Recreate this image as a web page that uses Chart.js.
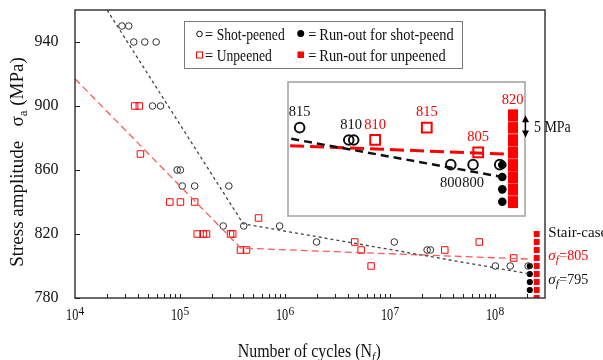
<!DOCTYPE html>
<html><head><meta charset="utf-8">
<script src="https://cdn.jsdelivr.net/npm/chart.js@4.4.1/dist/chart.umd.min.js"></script>
<style>
html,body{margin:0;padding:0;background:#fff;}
#wrap{position:relative;width:603px;height:360px;overflow:hidden;}
#main{position:absolute;left:0;top:0;}
#inset{position:absolute;left:287px;top:81px;}
</style></head><body>
<div id="wrap"><canvas id="main" width="603" height="360"></canvas><canvas id="inset" width="290" height="136"></canvas></div>
<script>
// ---------------- data ----------------
const shotPeenedCycles = [2.8e4,3.25e4, 3.63e4,4.62e4,5.93e4, 5.47e4,6.52e4, 9.4e4,1.01e5, 1.05e5,1.38e5,2.92e5, 2.58e5,4.05e5,8.9e5, 2.0e6,1.1e7, 2.26e7,2.43e7, 1.01e8,1.4e8,2.07e8];
const shotPeenedStress = [950,950, 940,940,940, 900,900, 860,860, 850,850,850, 825,825,825, 815,815, 810,810, 800,800,800];
const unpeenedCycles = [3.7e4,4.1e4, 4.2e4, 8.0e4,1.01e5,1.38e5, 1.46e5,1.66e5,1.79e5,3.03e5,3.18e5, 3.77e5,4.3e5, 5.6e5, 4.62e6, 5.32e6, 6.62e6, 3.33e7, 7.1e7, 1.51e8];
const unpeenedStress = [900,900, 870, 840,840,840, 820,820,820,820,820, 810,810, 830, 815, 810, 800, 810, 815, 805];
const runoutShotCycles = [2.15e8,2.15e8,2.15e8,2.15e8];
const runoutShotStress = [800,795,790,785];
const runoutUnpeenedCycles = [2.5e8,2.5e8,2.5e8,2.5e8,2.5e8,2.5e8,2.5e8,2.5e8,2.5e8];
const runoutUnpeenedStress = [820,815,810,805,800,795,790,785,780];
const shotFitCycles = [2.02e4, 4.0e5, 2.2e8];
const shotFitStress = [960, 826.4, 794.9];
const unpFitCycles = [1e4, 3.8e5, 2.2e8];
const unpFitStress = [917, 811.2, 804.3];
const yTickValues = [780, 820, 860, 900, 940];
const xTickValues = [1e4, 1e5, 1e6, 1e7, 1e8];
const xTickExponents = ['4', '5', '6', '7', '8'];
const insetLabelCycles = [1.1e7, 2.34e7, 3.33e7, 7.1e7, 1.51e8, 1.01e8, 1.4e8, 2.5e8];
const insetLabelStress = [815, 810, 810, 815, 805, 800, 800, 820];
const insetLabelColors = ['#111','#111','#ff0000','#ff0000','#ff0000','#111','#111','#ff0000'];
const insetLabelBelow = [false,false,false,false,false,true,true,false];
const stairShot = 795, stairUnpeened = 805;

const pts = (xs, ys) => xs.map((x, i) => ({x: x, y: ys[i]}));
const SERIF = '"Liberation Serif", "Times New Roman", serif';
const RED = '#ff0000';

function txt(ctx, s, x, y, font, color, sx, align) {
  ctx.save();
  ctx.font = font; ctx.fillStyle = color; ctx.textBaseline = 'alphabetic';
  const w = ctx.measureText(s).width * (sx || 1);
  let x0 = x;
  if (align === 'center') x0 = x - w / 2; else if (align === 'right') x0 = x - w;
  ctx.translate(x0, y); ctx.scale(sx || 1, 1); ctx.textAlign = 'left';
  ctx.fillText(s, 0, 0);
  ctx.restore();
  return w;
}

// ---------------- main chart ----------------
const mainDecor = {
  id: 'mainDecor',
  beforeDraw(chart) {
    const ctx = chart.ctx;
    ctx.save(); ctx.fillStyle = '#fff'; ctx.fillRect(0, 0, chart.width, chart.height); ctx.restore();
  },
  afterDraw(chart) {
    const ctx = chart.ctx, a = chart.chartArea, xs = chart.scales.x, ys = chart.scales.y;
    ctx.save();
    // frame
    ctx.strokeStyle = '#3a3a3a'; ctx.lineWidth = 1.5;
    ctx.strokeRect(a.left, a.top, a.right - a.left, a.bottom - a.top);
    // inward ticks
    ctx.strokeStyle = '#222'; ctx.lineWidth = 1;
    ctx.beginPath();
    yTickValues.forEach(v => { const py = Math.round(ys.getPixelForValue(v)) + 0.5; ctx.moveTo(a.left, py); ctx.lineTo(a.left + 5, py); });
    for (let d = 1e4; d <= 1e8; d *= 10) {
      for (let m = 1; m <= 9; m++) {
        const v = d * m;
        if (v <= xs.min || v >= xs.max) continue;
        const px = Math.round(xs.getPixelForValue(v)) + 0.5;
        ctx.moveTo(px, a.bottom); ctx.lineTo(px, a.bottom - 4);
      }
    }
    ctx.stroke();
    // y tick labels
    ctx.font = '16px ' + SERIF; ctx.fillStyle = '#111'; ctx.textAlign = 'right'; ctx.textBaseline = 'middle';
    yTickValues.forEach(v => ctx.fillText(String(v), a.left - 16.5, ys.getPixelForValue(v)));
    // x tick labels
    xTickValues.forEach((v, i) => {
      const px = xs.getPixelForValue(v);
      ctx.font = '17px ' + SERIF; const w1 = ctx.measureText('10').width * 0.72;
      ctx.font = '11.5px ' + SERIF; const w2 = ctx.measureText(xTickExponents[i]).width;
      const start = px - (w1 + w2) / 2;
      txt(ctx, '10', start, 320, '17px ' + SERIF, '#111', 0.72);
      txt(ctx, xTickExponents[i], start + w1 + 0.3, 315, '11.5px ' + SERIF, '#111', 1);
    });
    // x title
    {
      const f1 = '19px ' + SERIF, f2 = 'italic 13px ' + SERIF, sx = 0.84;
      ctx.font = f1; const p1 = 'Number of cycles (N', p3 = ')';
      const w1 = ctx.measureText(p1).width, w3 = ctx.measureText(p3).width;
      ctx.font = f2; const w2 = ctx.measureText('f').width;
      const tot = (w1 + w2 + w3) * sx;
      let x = 309 - tot / 2;
      txt(ctx, p1, x, 356.5, f1, '#111', sx); x += w1 * sx;
      txt(ctx, 'f', x, 360.5, f2, '#111', sx); x += w2 * sx + 0.5;
      txt(ctx, p3, x, 356.5, f1, '#111', sx);
    }
    // y title
    {
      const f1 = '19px ' + SERIF, f2 = '13px ' + SERIF;
      ctx.save(); ctx.translate(23, 162); ctx.rotate(-Math.PI / 2);
      ctx.font = f1; const p1 = 'Stress amplitude   σ', p3 = ' (MPa)';
      const w1 = ctx.measureText(p1).width, w3 = ctx.measureText(p3).width;
      ctx.font = f2; const w2 = ctx.measureText('a').width;
      let x = -(w1 + w2 + w3) / 2;
      ctx.fillStyle = '#111'; ctx.textBaseline = 'alphabetic'; ctx.textAlign = 'left';
      ctx.font = f1; ctx.fillText(p1, x, 0); x += w1;
      ctx.font = f2; ctx.fillText('a', x, 4); x += w2;
      ctx.font = f1; ctx.fillText(p3, x, 0);
      ctx.restore();
    }
    // legend
    ctx.fillStyle = '#fff'; ctx.fillRect(184.5, 21.5, 278, 47);
    ctx.strokeStyle = '#7a7a7a'; ctx.lineWidth = 1; ctx.strokeRect(184.5, 21.5, 278, 47);
    const lf = '16px ' + SERIF;
    ctx.strokeStyle = '#111'; ctx.lineWidth = 1;
    ctx.beginPath(); ctx.arc(199.5, 34, 2.8, 0, Math.PI * 2); ctx.stroke();
    txt(ctx, '=', 205, 39.5, lf, '#111', 0.9);
    txt(ctx, 'Shot-peened', 216.7, 39.5, lf, '#111', 0.85);
    ctx.strokeStyle = RED; ctx.strokeRect(196.5, 52, 6, 6);
    txt(ctx, '=', 205, 61, lf, '#111', 0.9);
    txt(ctx, 'Unpeened', 216.7, 61, lf, '#111', 0.85);
    ctx.fillStyle = '#000'; ctx.beginPath(); ctx.arc(300.7, 33.5, 3.5, 0, Math.PI * 2); ctx.fill();
    txt(ctx, '=', 308.3, 39.5, lf, '#111', 0.9);
    txt(ctx, 'Run-out for shot-peend', 319.3, 39.5, lf, '#111', 0.9);
    ctx.fillStyle = RED; ctx.fillRect(297.5, 51.5, 6.5, 6.5);
    txt(ctx, '=', 308.3, 61, lf, '#111', 0.9);
    txt(ctx, 'Run-out for unpeened', 319.3, 61, lf, '#111', 0.9);
    // stair-case annotation
    txt(ctx, 'Stair-case', 548.3, 236.7, '15px ' + SERIF, '#111', 1);
    [[stairUnpeened, RED, 260], [stairShot, '#111', 283.5]].forEach(([val, col, by]) => {
      let x = 548.3;
      x += txt(ctx, 'σ', x, by, 'italic 15px ' + SERIF, col, 1);
      x += txt(ctx, 'f', x, by + 3, 'italic 11px ' + SERIF, col, 1) + 0.5;
      txt(ctx, '=' + val, x, by, '14px ' + SERIF, col, 1);
    });
    ctx.restore();
  }
};

new Chart(document.getElementById('main'), {
  type: 'scatter',
  data: {
    datasets: [
      {label: 'Shot-peened fit', data: pts(shotFitCycles, shotFitStress), showLine: true, pointRadius: 0, borderColor: '#444', borderWidth: 1.3, borderDash: [3, 3], fill: false},
      {label: 'Unpeened fit', data: pts(unpFitCycles, unpFitStress), showLine: true, pointRadius: 0, borderColor: '#ff5a5a', borderWidth: 1.3, borderDash: [7, 4], fill: false},
      {label: 'Shot-peened', data: pts(shotPeenedCycles, shotPeenedStress), pointStyle: 'circle', pointRadius: 3.3, borderWidth: 1, borderColor: '#333', backgroundColor: 'rgba(0,0,0,0)'},
      {label: 'Unpeened', data: pts(unpeenedCycles, unpeenedStress), pointStyle: 'rect', pointRadius: 4.6, borderWidth: 1, borderColor: RED, backgroundColor: 'rgba(0,0,0,0)'},
      {label: 'Run-out for shot-peend', data: pts(runoutShotCycles, runoutShotStress), pointStyle: 'circle', pointRadius: 3.1, borderWidth: 0, backgroundColor: '#000', borderColor: '#000'},
      {label: 'Run-out for unpeened', data: pts(runoutUnpeenedCycles, runoutUnpeenedStress), pointStyle: 'rect', pointRadius: 4.2, borderWidth: 0, backgroundColor: RED, borderColor: RED}
    ]
  },
  options: {
    responsive: false, animation: false, devicePixelRatio: 1,
    layout: {autoPadding: false, padding: {left: 75, right: 58, top: 10, bottom: 62}},
    plugins: {legend: {display: false}, tooltip: {enabled: false}},
    scales: {
      x: {type: 'logarithmic', min: 1e4, max: 3e8, display: false},
      y: {type: 'linear', min: 780, max: 960, display: false}
    }
  },
  plugins: [mainDecor]
});

// ---------------- inset chart ----------------
const cell = document.createElement('canvas');
cell.width = 10; cell.height = 13;
{
  const c = cell.getContext('2d');
  c.fillStyle = RED; c.fillRect(0, 0, 10, 13);
  c.fillStyle = 'rgba(255,190,190,0.7)'; c.fillRect(0, 0, 10, 0.8);
}

const insetDecor = {
  id: 'insetDecor',
  beforeDraw(chart) {
    const ctx = chart.ctx, a = chart.chartArea;
    ctx.save(); ctx.fillStyle = '#fff'; ctx.fillRect(a.left, a.top, a.right - a.left, a.bottom - a.top); ctx.restore();
  },
  afterDraw(chart) {
    const ctx = chart.ctx, a = chart.chartArea, xs = chart.scales.x, ys = chart.scales.y;
    ctx.save();
    ctx.strokeStyle = '#a0a0a0'; ctx.lineWidth = 1.5;
    ctx.strokeRect(a.left, a.top, a.right - a.left, a.bottom - a.top);
    insetLabelStress.forEach((s, i) => {
      const px = xs.getPixelForValue(insetLabelCycles[i]);
      const py = ys.getPixelForValue(s) + (insetLabelBelow[i] ? 19 : -15);
      ctx.font = '14.5px ' + SERIF; ctx.fillStyle = insetLabelColors[i];
      ctx.textAlign = 'center'; ctx.textBaseline = 'middle';
      ctx.fillText(String(s), px, py);
    });
    // 5 MPa double arrow
    const ax = a.right + 0.5, y1 = ys.getPixelForValue(820), y2 = ys.getPixelForValue(811);
    ctx.strokeStyle = '#000'; ctx.fillStyle = '#000'; ctx.lineWidth = 1.3;
    ctx.beginPath(); ctx.moveTo(ax, y1 + 5); ctx.lineTo(ax, y2 - 5); ctx.stroke();
    ctx.beginPath(); ctx.moveTo(ax, y1); ctx.lineTo(ax - 3.5, y1 + 7); ctx.lineTo(ax + 3.5, y1 + 7); ctx.closePath(); ctx.fill();
    ctx.beginPath(); ctx.moveTo(ax, y2); ctx.lineTo(ax - 3.5, y2 - 7); ctx.lineTo(ax + 3.5, y2 - 7); ctx.closePath(); ctx.fill();
    txt(ctx, '5 MPa', ax + 8.5, (y1 + y2) / 2 + 5.5, '16px ' + SERIF, '#111', 0.87);
    ctx.restore();
  }
};

new Chart(document.getElementById('inset'), {
  type: 'scatter',
  data: {
    datasets: [
      {data: pts(shotFitCycles, shotFitStress), showLine: true, pointRadius: 0, borderColor: '#111', borderWidth: 2.5, borderDash: [8, 5], fill: false, clip: 0},
      {data: pts(unpFitCycles, unpFitStress), showLine: true, pointRadius: 0, borderColor: RED, borderWidth: 3, borderDash: [14, 6], fill: false, clip: 0},
      {data: pts(runoutUnpeenedCycles.slice(0, 8), runoutUnpeenedStress.slice(0, 8)), pointStyle: cell, pointRadius: 6, clip: 0},
      {data: pts(shotPeenedCycles, shotPeenedStress), pointStyle: 'circle', pointRadius: 4.8, borderWidth: 2, borderColor: '#111', backgroundColor: 'rgba(0,0,0,0)', clip: 0},
      {data: pts(unpeenedCycles, unpeenedStress), pointStyle: 'rect', pointRadius: 6.9, borderWidth: 2, borderColor: RED, backgroundColor: 'rgba(0,0,0,0)', clip: 0},
      {data: pts(runoutShotCycles, runoutShotStress), pointStyle: 'circle', pointRadius: 4.3, borderWidth: 0, backgroundColor: '#000', clip: 0}
    ]
  },
  options: {
    responsive: false, animation: false, devicePixelRatio: 1,
    layout: {autoPadding: false, padding: {left: 1, right: 52, top: 1, bottom: 1}},
    plugins: {legend: {display: false}, tooltip: {enabled: false}},
    scales: {
      x: {type: 'logarithmic', min: 9.27e6, max: 3e8, display: false},
      y: {type: 'linear', min: 779.2, max: 833.5, display: false}
    }
  },
  plugins: [insetDecor]
});
</script>
</body></html>
